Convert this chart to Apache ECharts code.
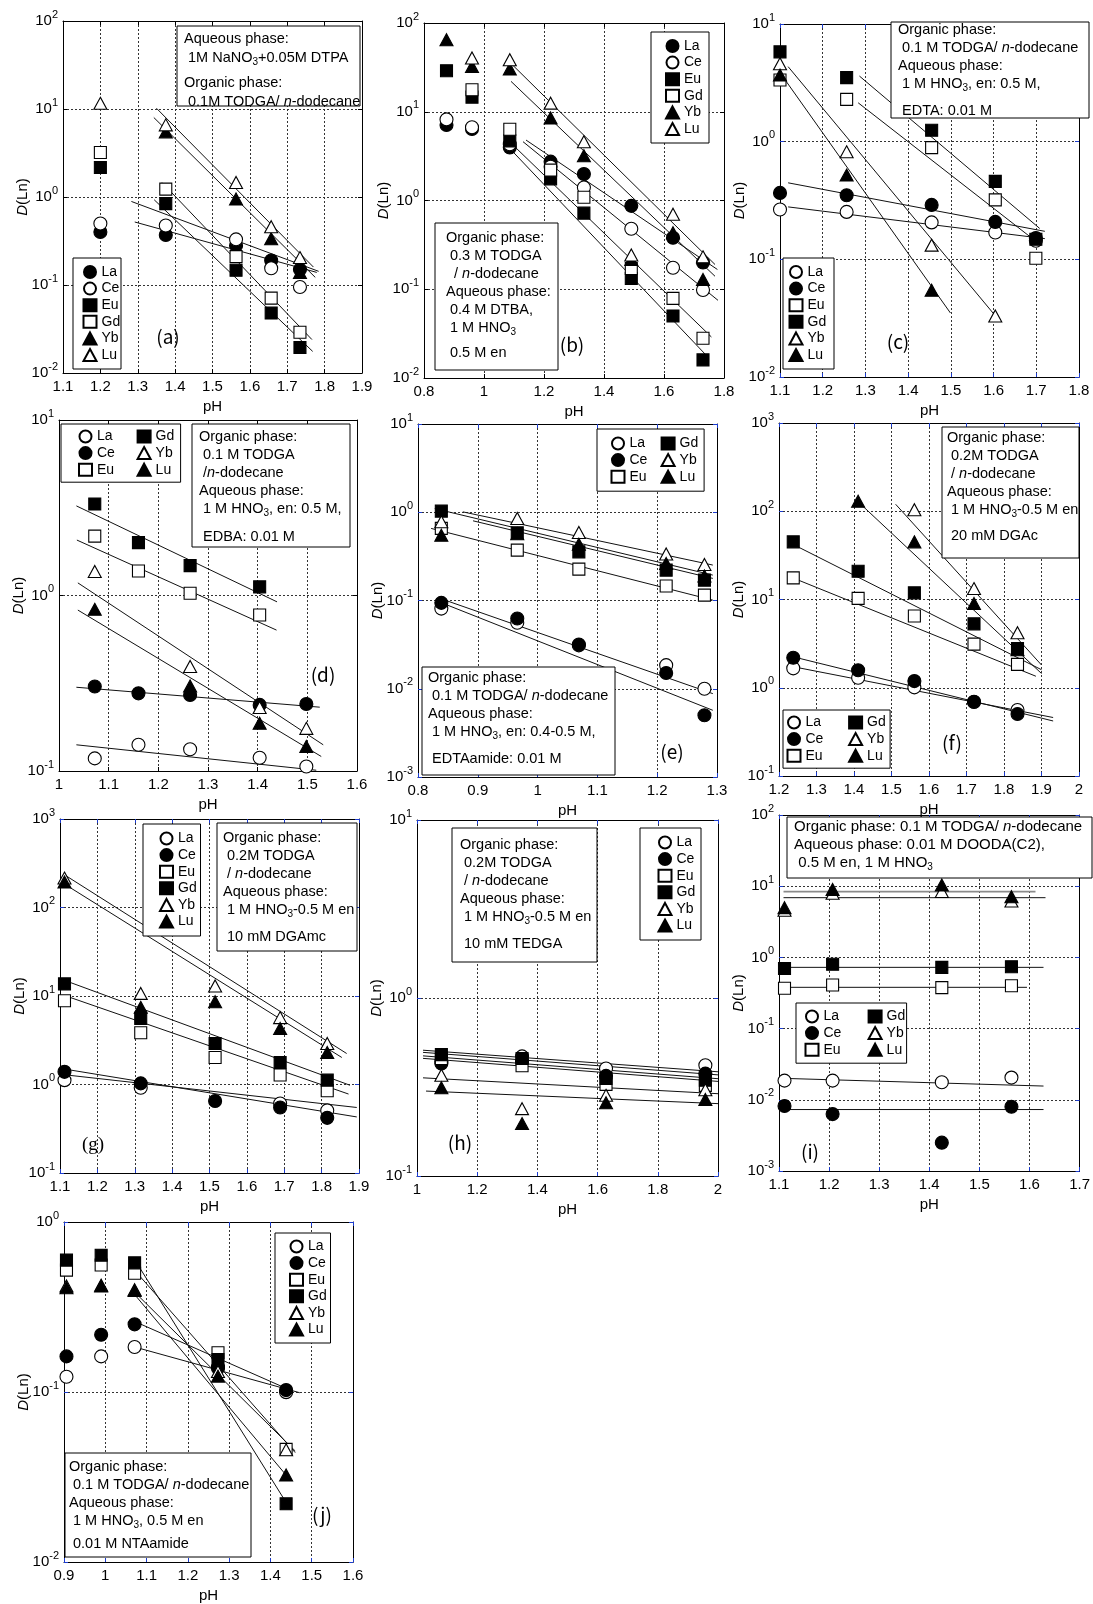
<!DOCTYPE html>
<html>
<head>
<meta charset="utf-8">
<script src="https://cdn.jsdelivr.net/npm/echarts@6.0.0/dist/echarts.min.js"></script>
<style>
html, body { margin: 0; padding: 0; background: #fff; }
#chart { width: 1093px; height: 1604px; }
</style>
</head>
<body>
<div id="chart"></div>
<script>
// Distribution ratios D(Ln) vs. pH for ten extraction systems (a)-(j)
const ELEMENTS = ['La', 'Ce', 'Eu', 'Gd', 'Yb', 'Lu'];

// (a) 1M NaNO3 + 0.05M DTPA / 0.1M TODGA
const pH_a = [1.20, 1.375, 1.563, 1.657, 1.734];
const a_La = [0.40, 0.37, 0.28, 0.19, 0.15];
const a_Ce = [0.50, 0.475, 0.33, 0.155, 0.095];
const a_Eu = [2.16, 0.84, 0.147, 0.048, 0.0195];
const a_Gd = [3.2, 1.23, 0.21, 0.071, 0.029];
const a_Yb = [null, 5.5, 0.95, 0.335, 0.139];
const a_Lu = [11.6, 6.6, 1.46, 0.46, 0.205];
const fit_a = [['Lu', 1.35, 10.2, 1.77, 0.16], ['Yb', 1.343, 8.0, 1.775, 0.122], ['Gd', 1.365, 1.46, 1.766, 0.024],
               ['Eu', 1.344, 0.93, 1.768, 0.0176], ['Ce', 1.283, 0.89, 1.784, 0.143], ['La', 1.292, 0.52, 1.779, 0.139]];

// (b) 0.4 M DTBA
const pH_b = [0.875, 0.96, 1.086, 1.222, 1.333, 1.491, 1.63, 1.73];
const b_La = [7.1, 6.4, 3.95, 2.74, 1.99, 0.87, 0.38, 0.20];
const b_Ce = [8.2, 6.7, 4.3, 2.4, 1.40, 0.48, 0.175, 0.098];
const b_Eu = [29, 14.6, 4.7, 1.75, 0.72, 0.132, 0.050, 0.016];
const b_Gd = [null, 17.7, 6.35, 2.2, 1.09, 0.171, 0.079, 0.028];
const b_Yb = [64.8, 32.4, 30.3, 8.5, 3.2, 0.217, 0.434, 0.129];
const b_Lu = [null, 40.3, 38.5, 12.5, 4.6, 0.243, 0.70, 0.232];
const fit_b = [['Lu', 1.09, 35, 1.77, 0.19], ['Yb', 1.09, 22, 1.77, 0.14], ['La', 1.14, 4.8, 1.778, 0.167],
               ['Ce', 1.13, 4.6, 1.78, 0.075], ['Gd', 1.091, 4.4, 1.758, 0.029], ['Eu', 1.091, 3.7, 1.741, 0.018]];

// (c) EDTA
const pH_c = [1.10, 1.256, 1.455, 1.604, 1.699];
const c_La = [0.265, 0.253, 0.206, 0.169, 0.144];
const c_Ce = [0.367, 0.35, 0.29, 0.208, 0.152];
const c_Eu = [3.34, 2.29, 0.89, 0.32, 0.102];
const c_Gd = [5.8, 3.5, 1.25, 0.46, 0.148];
const c_Yb = [4.6, 0.82, 0.132, 0.033, null];
const c_Lu = [3.68, 0.52, 0.0546, null, null];
const fit_c = [['Gd', 1.286, 3.61, 1.708, 0.183], ['Eu', 1.283, 2.14, 1.688, 0.153], ['Yb', 1.119, 4.34, 1.603, 0.0335],
               ['Lu', 1.104, 3.68, 1.499, 0.035], ['Ce', 1.119, 0.447, 1.72, 0.173], ['La', 1.119, 0.279, 1.72, 0.150]];

// (d) EDBA
const pH_d = [1.072, 1.160, 1.264, 1.404, 1.498];
const d_La = [0.118, 0.141, 0.133, 0.119, 0.106];
const d_Ce = [0.303, 0.277, 0.271, 0.238, 0.241];
const d_Eu = [2.18, 1.38, 1.03, 0.774, null];
const d_Gd = [3.32, 2.0, 1.48, 1.12, null];
const d_Yb = [1.37, null, 0.394, 0.23, 0.175];
const d_Lu = [0.834, null, 0.305, 0.187, 0.138];
const fit_d = [['Gd', 1.035, 3.24, 1.439, 0.92], ['Eu', 1.036, 2.07, 1.438, 0.635], ['Yb', 1.038, 1.18, 1.532, 0.141],
               ['Lu', 1.038, 0.826, 1.528, 0.121], ['Ce', 1.035, 0.30, 1.525, 0.231], ['La', 1.035, 0.141, 1.518, 0.101]];

// (e) EDTAamide
const pH_e = [0.839, 0.966, 1.069, 1.215, 1.279];
const e_La = [0.081, 0.056, 0.031, 0.0185, 0.0100];
const e_Ce = [0.094, 0.0625, 0.0317, 0.0151, 0.0050];
const e_Eu = [0.656, 0.372, 0.227, 0.146, 0.115];
const e_Gd = [1.03, 0.585, 0.356, 0.221, 0.17];
const e_Yb = [0.78, 0.85, 0.59, 0.336, 0.256];
const e_Lu = [0.55, 0.57, 0.435, 0.263, 0.19];
const fit_e = [['Yb', 0.875, 1.01, 1.293, 0.252], ['Gd', 0.828, 1.10, 1.293, 0.194], ['Lu', 0.892, 0.80, 1.293, 0.178],
               ['Eu', 0.822, 0.656, 1.293, 0.101], ['La', 0.845, 0.101, 1.293, 0.0088], ['Ce', 0.845, 0.091, 1.293, 0.0057]];

// (f) 20 mM DGAc
const pH_f = [1.238, 1.411, 1.561, 1.72, 1.836];
const f_La = [1.66, 1.30, 1.01, 0.69, 0.56];
const f_Ce = [2.19, 1.58, 1.19, 0.695, 0.504];
const f_Eu = [17.6, 10.3, 6.5, 3.12, 1.84];
const f_Gd = [45, 20.9, 11.9, 5.3, 2.79];
const f_Yb = [null, null, 104, 13.3, 4.2];
const f_Lu = [null, 130, 45, 9.0, 2.7];
const fit_f = [['Yb', 1.511, 120, 1.90, 1.81], ['Lu', 1.411, 128, 1.90, 1.45], ['Gd', 1.238, 42, 1.90, 1.6],
               ['Eu', 1.238, 17.5, 1.885, 1.35], ['Ce', 1.238, 2.24, 1.931, 0.42], ['La', 1.238, 1.73, 1.931, 0.46]];

// (g) 10 mM DGAmc
const pH_g = [1.112, 1.316, 1.515, 1.689, 1.815];
const g_La = [1.12, 0.92, null, 0.61, 0.51];
const g_Ce = [1.39, 1.03, 0.65, 0.55, 0.42];
const g_Eu = [8.85, 3.85, 2.02, 1.28, 0.85];
const g_Gd = [13.7, 5.59, 2.91, 1.77, 1.12];
const g_Yb = [215, 10.7, 13, 5.7, 2.91];
const g_Lu = [194, 7.45, 8.6, 4.3, 2.3];
const fit_g = [['Yb', 1.112, 234, 1.867, 2.24], ['Lu', 1.112, 184, 1.854, 2.02], ['Gd', 1.122, 14.5, 1.876, 0.98],
               ['Eu', 1.122, 9.8, 1.872, 0.78], ['Ce', 1.118, 1.48, 1.894, 0.43], ['La', 1.118, 1.28, 1.894, 0.55]];

// (h) 10 mM TEDGA
const pH_h = [1.081, 1.349, 1.628, 1.958];
const h_La = [0.44, 0.47, 0.402, 0.419];
const h_Ce = [0.428, 0.44, 0.365, 0.376];
const h_Eu = [0.457, 0.416, 0.327, 0.323];
const h_Gd = [0.481, 0.457, 0.353, 0.345];
const h_Yb = [0.368, 0.239, 0.284, 0.305];
const h_Lu = [0.313, 0.197, 0.258, 0.269];
const fit_h = [['La', 1.02, 0.509, 2.0, 0.385], ['Ce', 1.02, 0.495, 2.0, 0.37], ['Gd', 1.02, 0.473, 2.0, 0.352],
               ['Eu', 1.02, 0.458, 2.0, 0.34], ['Yb', 1.02, 0.356, 2.0, 0.29], ['Lu', 1.03, 0.30, 2.0, 0.255]];

// (i) DOODA(C2)
const pH_i = [1.111, 1.207, 1.425, 1.564];
const i_La = [0.0186, 0.0186, 0.0176, 0.0205];
const i_Ce = [0.0082, 0.0063, 0.0025, 0.0080];
const i_Eu = [0.368, 0.41, 0.376, 0.40];
const i_Gd = [0.70, 0.80, 0.725, 0.74];
const i_Yb = [4.6, 7.95, 8.4, 6.2];
const i_Lu = [5.0, 9.0, 10.4, 7.1];
const fit_i = [['Lu', 1.109, 8.4, 1.612, 8.4], ['Yb', 1.109, 6.9, 1.632, 6.9], ['Gd', 1.109, 0.725, 1.628, 0.725],
               ['Eu', 1.109, 0.38, 1.595, 0.38], ['La', 1.109, 0.020, 1.628, 0.0156], ['Ce', 1.109, 0.0073, 1.628, 0.0073]];

// (j) NTAamide
const pH_j = [0.906, 0.99, 1.071, 1.273, 1.438];
const j_La = [0.123, 0.162, 0.184, 0.138, 0.0998];
const j_Ce = [0.162, 0.217, 0.25, 0.14, 0.1026];
const j_Eu = [0.521, 0.558, 0.499, 0.17, 0.046];
const j_Gd = [0.597, 0.638, 0.575, 0.155, 0.022];
const j_Yb = [0.42, 0.425, 0.40, 0.132, 0.0457];
const j_Lu = [0.41, 0.42, 0.395, 0.124, 0.0325];
const fit_j = [['La', 1.071, 0.184, 1.471, 0.099], ['Ce', 1.071, 0.26, 1.454, 0.101], ['Eu', 1.071, 0.52, 1.46, 0.044],
               ['Yb', 1.065, 0.40, 1.46, 0.045], ['Gd', 1.075, 0.58, 1.44, 0.022], ['Lu', 1.065, 0.39, 1.44, 0.032]];

// ---------------------------------------------------------------------------
const FONT = '"Liberation Sans", Arial, Helvetica, sans-serif';
const BLUE = '#1c3cd0';

// marker sets: [symbol, filled]
const MARK_A = { La: ['circle', 1], Ce: ['circle', 0], Eu: ['rect', 1], Gd: ['rect', 0], Yb: ['triangle', 1], Lu: ['triangle', 0] };
const MARK_B = { La: ['circle', 0], Ce: ['circle', 1], Eu: ['rect', 0], Gd: ['rect', 1], Yb: ['triangle', 0], Lu: ['triangle', 1] };
const SYMBOL_SIZE = { circle: 13, rect: 12, triangle: [13, 12] };

const PANELS = [
  { key: 'a', pH: pH_a, D: [a_La, a_Ce, a_Eu, a_Gd, a_Yb, a_Lu], fits: fit_a, marks: MARK_A,
    grid: [63, 21, 299, 352], x: [1.1, 1.9, 0.1], y: [0.01, 100], tick: '#000',
    legend: { left: 73, top: 258, pad: [7, 0.5, 7, 9.5], gap: 13, cols: 1, w: [19] },
    box: { x: 177, y: 26, w: 183, h: 80, tx: 184, ty: 29.5, lh: 19, sp: 6,
      lines: ['Aqueous phase:', ' 1M NaNO_3+0.05M DTPA', '', 'Organic phase:', ' 0.1M TODGA/ *n*-dodecane'] },
    tag: [168, 337, '(a)'] },
  { key: 'b', pH: pH_b, D: [b_La, b_Ce, b_Eu, b_Gd, b_Yb, b_Lu], fits: fit_b, marks: MARK_A,
    grid: [424, 23, 300, 355], x: [0.8, 1.8, 0.2], y: [0.01, 100], tick: '#000',
    legend: { left: 651, top: 32, pad: [7, 2, 7, 14], gap: 10, cols: 1, w: [23] },
    box: { x: 435, y: 223, w: 123, h: 147, tx: 446, ty: 229, lh: 18, sp: 7,
      lines: ['Organic phase:', ' 0.3 M TODGA', '  / *n*-dodecane', 'Aqueous phase:', ' 0.4 M DTBA,', ' 1 M HNO_3', '', ' 0.5 M en'] },
    tag: [572, 345, '(b)'] },
  { key: 'c', pH: pH_c, D: [c_La, c_Ce, c_Eu, c_Gd, c_Yb, c_Lu], fits: fit_c, marks: MARK_B,
    grid: [780, 24, 299, 353], x: [1.1, 1.8, 0.1], y: [0.01, 10], tick: BLUE,
    legend: { left: 783, top: 258, pad: [7, 2.5, 7, 5.5], gap: 17, cols: 1, w: [24] },
    box: { x: 891, y: 22, w: 198, h: 96, tx: 898, ty: 21, lh: 18, sp: 9,
      lines: ['Organic phase:', ' 0.1 M TODGA/ *n*-dodecane', 'Aqueous phase:', ' 1 M HNO_3, en: 0.5 M,', '', ' EDTA: 0.01 M'] },
    tag: [898, 342, '(c)'] },
  { key: 'd', pH: pH_d, D: [d_La, d_Ce, d_Eu, d_Gd, d_Yb, d_Lu], fits: fit_d, marks: MARK_B,
    grid: [59, 420, 298, 351], x: [1.0, 1.6, 0.1], y: [0.1, 10], tick: '#000',
    legend: { left: 61, top: 424, pad: [5.5, 2, 5.5, 17], gap: 8.5, cols: 2, w: [37, 23] },
    box: { x: 192, y: 424, w: 158, h: 123, tx: 199, ty: 428, lh: 18, sp: 10,
      lines: ['Organic phase:', ' 0.1 M TODGA', ' /*n*-dodecane', 'Aqueous phase:', ' 1 M HNO_3, en: 0.5 M,', '', ' EDBA: 0.01 M'] },
    tag: [323, 675, '(d)'] },
  { key: 'e', pH: pH_e, D: [e_La, e_Ce, e_Eu, e_Gd, e_Yb, e_Lu], fits: fit_e, marks: MARK_B,
    grid: [418, 424, 299, 353], x: [0.8, 1.3, 0.1], y: [0.001, 10], tick: BLUE,
    legend: { left: 597, top: 429, pad: [7.5, 2, 7.5, 13.5], gap: 10, cols: 2, w: [28.5, 22.5] },
    box: { x: 422, y: 667, w: 193, h: 108, tx: 428, ty: 669, lh: 18, sp: 9,
      lines: ['Organic phase:', ' 0.1 M TODGA/ *n*-dodecane', 'Aqueous phase:', ' 1 M HNO_3, en: 0.4-0.5 M,', '', ' EDTAamide: 0.01 M'] },
    tag: [672, 752, '(e)'] },
  { key: 'f', pH: pH_f, D: [f_La, f_Ce, f_Eu, f_Gd, f_Yb, f_Lu], fits: fit_f, marks: MARK_B,
    grid: [779, 423, 300, 353], x: [1.2, 2.0, 0.1], y: [0.1, 1000], tick: BLUE,
    legend: { left: 783, top: 710, pad: [5.5, 2, 5.5, 3.5], gap: 10.5, cols: 2, w: [40, 21] },
    box: { x: 942, y: 427, w: 137, h: 131, tx: 947, ty: 429, lh: 18, sp: 8,
      lines: ['Organic phase:', ' 0.2M TODGA', ' / *n*-dodecane', 'Aqueous phase:', ' 1 M HNO_3-0.5 M en', '', ' 20 mM DGAc'] },
    tag: [952, 743, '(f)'] },
  { key: 'g', pH: pH_g, D: [g_La, g_Ce, g_Eu, g_Gd, g_Yb, g_Lu], fits: fit_g, marks: MARK_B,
    grid: [60, 819, 299, 354], x: [1.1, 1.9, 0.1], y: [0.1, 1000], tick: BLUE,
    legend: { left: 143, top: 824, pad: [7.5, 1.5, 7.5, 16], gap: 9.5, cols: 1, w: [21] },
    box: { x: 217, y: 823, w: 140, h: 128, tx: 223, ty: 829, lh: 18, sp: 9,
      lines: ['Organic phase:', ' 0.2M TODGA', ' / *n*-dodecane', 'Aqueous phase:', ' 1 M HNO_3-0.5 M en', '', ' 10 mM DGAmc'] },
    tag: [93, 1145, '(g)'], tagSerif: true },
  { key: 'h', pH: pH_h, D: [h_La, h_Ce, h_Eu, h_Gd, h_Yb, h_Lu], fits: fit_h, marks: MARK_B,
    grid: [417, 820, 301, 356], x: [1.0, 2.0, 0.2], y: [0.1, 10], tick: BLUE,
    legend: { left: 640, top: 828, pad: [7.5, 2, 7.5, 17.5], gap: 8, cols: 1, w: [22.5] },
    box: { x: 452, y: 828, w: 145, h: 134, tx: 460, ty: 836, lh: 18, sp: 9,
      lines: ['Organic phase:', ' 0.2M TODGA', ' / *n*-dodecane', 'Aqueous phase:', ' 1 M HNO_3-0.5 M en', '', ' 10 mM TEDGA'] },
    tag: [460, 1143, '(h)'] },
  { key: 'i', pH: pH_i, D: [i_La, i_Ce, i_Eu, i_Gd, i_Yb, i_Lu], fits: fit_i, marks: MARK_B, greyFits: ['Lu'],
    grid: [779, 815, 302, 356], x: [1.1, 1.7, 0.1], y: [0.001, 100], tick: BLUE,
    legend: { left: 796, top: 1003, pad: [6.5, 1, 6.5, 8.5], gap: 13, cols: 2, w: [41.5, 19] },
    box: { x: 787, y: 817, w: 305, h: 61, tx: 794, ty: 818, lh: 18, sp: 0, fs: 15,
      lines: ['Organic phase: 0.1 M TODGA/ *n*-dodecane', 'Aqueous phase: 0.01 M DOODA(C2),', ' 0.5 M en, 1 M HNO_3'] },
    tag: [810, 1152, '(i)'] },
  { key: 'j', pH: pH_j, D: [j_La, j_Ce, j_Eu, j_Gd, j_Yb, j_Lu], fits: fit_j, marks: MARK_B,
    grid: [64, 1222, 289, 341], x: [0.9, 1.6, 0.1], y: [0.01, 1], tick: BLUE,
    legend: { left: 275, top: 1233, pad: [6.5, 1.5, 6.5, 14], gap: 9.5, cols: 1, w: [21] },
    box: { x: 65, y: 1453, w: 186, h: 104, tx: 69, ty: 1458, lh: 18, sp: 5,
      lines: ['Organic phase:', ' 0.1 M TODGA/ *n*-dodecane', 'Aqueous phase:', ' 1 M HNO_3, 0.5 M en', '', ' 0.01 M NTAamide'] },
    tag: [322, 1515, '(j)'] }
];

// rich-text line: "_3" -> subscript 3, "*n*" -> italic n, "" -> small spacer
function richLine(s) {
  if (s === '') return '{g| }';
  return s.split(/(_3|\*n\*)/).filter(p => p !== '').map(p => {
    if (p === '_3') return '{s|3}';
    if (p === '*n*') return '{i|n}';
    return '{t|' + p + '}';
  }).join('');
}

const grids = [], xAxes = [], yAxes = [], series = [], legends = [], graphics = [];

PANELS.forEach((p, k) => {
  const [gl, gt, gw, gh] = p.grid;
  grids.push({ left: gl, top: gt, width: gw, height: gh, show: false });

  const tickStyle = { show: true, inside: true, length: 4, lineStyle: { color: p.tick, width: 1 } };
  const frameLine = { show: true, onZero: false, lineStyle: { color: '#000', width: 1 } };
  const gridLine = { show: true, lineStyle: { color: '#333', type: [2, 2], width: 1 } };

  xAxes.push({
    gridIndex: k, type: 'value', min: p.x[0], max: p.x[1], interval: p.x[2], position: 'bottom',
    name: 'pH', nameLocation: 'middle', nameGap: 26, nameMoveOverlap: false,
    nameTextStyle: { fontSize: 15, color: '#000', fontFamily: FONT },
    axisLine: frameLine, axisTick: tickStyle,
    axisLabel: { show: true, margin: 6, fontSize: 15, color: '#000', fontFamily: FONT, showMinLabel: true, showMaxLabel: true },
    splitLine: gridLine
  });
  xAxes.push({
    gridIndex: k, type: 'value', min: p.x[0], max: p.x[1], interval: p.x[2], position: 'top',
    axisLine: frameLine, axisTick: tickStyle, axisLabel: { show: false }, splitLine: { show: false }
  });
  yAxes.push({
    gridIndex: k, type: 'log', logBase: 10, min: p.y[0], max: p.y[1], position: 'left',
    name: '{i|D}(Ln)', nameLocation: 'middle', nameGap: 33, nameRotate: 90, nameMoveOverlap: false,
    nameTextStyle: { fontSize: 15, color: '#000', fontFamily: FONT,
      rich: { i: { fontStyle: 'italic', fontSize: 15, color: '#000', fontFamily: FONT } } },
    axisLine: frameLine, axisTick: tickStyle,
    axisLabel: {
      show: true, margin: 5, showMinLabel: true, showMaxLabel: true,
      formatter: v => '{b|10}{e|' + Math.round(Math.log10(v)) + '}',
      rich: {
        b: { fontSize: 15, lineHeight: 24, color: '#000', fontFamily: FONT },
        e: { fontSize: 11, lineHeight: 8, verticalAlign: 'top', color: '#000', fontFamily: FONT }
      }
    },
    splitLine: gridLine
  });
  yAxes.push({
    gridIndex: k, type: 'log', logBase: 10, min: p.y[0], max: p.y[1], position: 'right',
    axisLine: frameLine, axisTick: tickStyle, axisLabel: { show: false }, splitLine: { show: false }
  });

  // fitted lines
  p.fits.forEach(f => {
    const grey = p.greyFits && p.greyFits.indexOf(f[0]) >= 0;
    series.push({
      type: 'line', xAxisIndex: 2 * k, yAxisIndex: 2 * k, silent: true, animation: false,
      symbol: 'none', z: 2, clip: true,
      lineStyle: { color: grey ? '#8a8a8a' : '#111', width: grey ? 1.6 : 1 },
      data: [[f[1], f[2]], [f[3], f[4]]]
    });
  });

  // measured points
  ELEMENTS.forEach((el, ei) => {
    const vals = p.D[ei];
    const [sym, filled] = p.marks[el];
    series.push({
      type: 'scatter', name: p.key + '|' + el, xAxisIndex: 2 * k, yAxisIndex: 2 * k,
      silent: true, animation: false, z: 3,
      symbol: sym, symbolSize: SYMBOL_SIZE[sym],
      itemStyle: { color: filled ? '#000' : '#fff', borderColor: '#000', borderWidth: 1.1, opacity: 1 },
      data: p.pH.map((x, i) => [x, vals[i]]).filter(d => d[1] != null)
    });
  });

  // legend
  const L = p.legend;
  const lg = {
    left: L.left, top: L.top, orient: 'vertical', padding: L.pad,
    itemWidth: 13, itemHeight: 12, itemGap: 2.6, itemTextGap: L.gap,
    selectedMode: false, backgroundColor: '#fff', borderColor: '#000', borderWidth: 1, borderRadius: 0,
    z: 50,
    formatter: n => n.split('|')[1],
    textStyle: { fontSize: 14, lineHeight: 13, color: '#000', fontFamily: FONT },
    data: ELEMENTS.map((el, ei) => ({
      name: p.key + '|' + el,
      textStyle: { width: L.cols === 2 ? L.w[ei < 3 ? 0 : 1] : L.w[0] }
    }))
  };
  if (L.cols === 2) lg.height = 54;
  legends.push(lg);

  // condition box
  const B = p.box;
  const fs = B.fs || 14.5;
  const text = B.lines.map(richLine).join('\n');
  graphics.push({
    type: 'rect', z: 100, zlevel: 0, shape: { x: B.x, y: B.y, width: B.w, height: B.h },
    style: { fill: '#fff', stroke: '#000', lineWidth: 1 }
  });
  graphics.push({
    type: 'text', z: 101, zlevel: 0, x: B.tx, y: B.ty,
    style: {
      text: text, fill: '#000', align: 'left', verticalAlign: 'top',
      fontFamily: FONT, fontSize: fs,
      rich: {
        t: { fontSize: fs, lineHeight: B.lh, fontFamily: FONT },
        i: { fontSize: fs, lineHeight: B.lh, fontFamily: FONT, fontStyle: 'italic' },
        s: { fontSize: 10, lineHeight: 4, verticalAlign: 'bottom', fontFamily: FONT },
        g: { fontSize: 2, lineHeight: B.sp || 1, fontFamily: FONT }
      }
    }
  });

  // panel tag
  graphics.push({
    type: 'text', z: 101, x: p.tag[0], y: p.tag[1],
    style: {
      text: p.tag[2], fill: '#000', align: 'center', verticalAlign: 'middle',
      fontSize: 19, fontFamily: p.tagSerif ? '"Liberation Serif", "DejaVu Serif", serif' : '"Noto Sans CJK JP", ' + FONT
    }
  });
});

const chart = echarts.init(document.getElementById('chart'), null, { renderer: 'canvas' });
chart.setOption({
  backgroundColor: '#fff',
  animation: false,
  textStyle: { fontFamily: FONT },
  grid: grids,
  xAxis: xAxes,
  yAxis: yAxes,
  legend: legends,
  series: series,
  graphic: graphics
});
</script>
</body>
</html>
